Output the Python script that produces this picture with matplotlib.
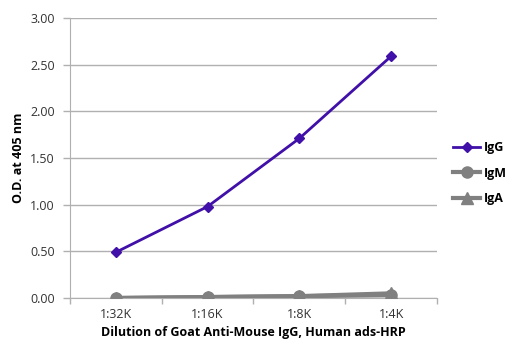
import matplotlib.pyplot as plt

# data
dilutions = ["1:32K", "1:16K", "1:8K", "1:4K"]
igg = [0.49, 0.98, 1.71, 2.59]
igm = [0.00, 0.01, 0.02, 0.03]
iga = [0.00, 0.01, 0.02, 0.05]

plt.rcParams['font.family'] = ['Open Sans', 'DejaVu Sans']

fig = plt.figure(figsize=(5.06, 3.46), dpi=100)
ax = fig.add_axes([0.1383, 0.1387, 0.7253, 0.8093])

x = range(len(dilutions))

ax.plot(x, iga, color="#808080", lw=3, marker="^", ms=8, label="IgA", zorder=3)
ax.plot(x, igm, color="#808080", lw=3, marker="o", ms=8, label="IgM", zorder=4)
ax.plot(x, igg, color="#4010A8", lw=2, marker="D", ms=5, label="IgG", zorder=5)

ax.set_xlim(-0.5, len(dilutions) - 0.5)
ax.set_ylim(0, 3)
ax.set_yticks([0, 0.5, 1, 1.5, 2, 2.5, 3])
ax.set_yticklabels([f"{v:.2f}" for v in ax.get_yticks()])
ax.set_xticks(list(x))
ax.set_xticklabels(dilutions)
ax.set_xticks([i - 0.5 for i in range(len(dilutions) + 1)], minor=True)
ax.tick_params(axis='x', which='major', length=0, pad=7)
ax.tick_params(axis='x', which='minor', length=4, color="#b0b0b0", width=1)
ax.tick_params(axis='y', length=5, color="#b0b0b0", width=1, pad=6)
ax.tick_params(labelsize=9, labelcolor="#333333")

ax.grid(axis='y', color="#b0b0b0", lw=1)
ax.set_axisbelow(True)
for s in ["top", "right"]:
    ax.spines[s].set_visible(False)
for s in ["left", "bottom"]:
    ax.spines[s].set_color("#b0b0b0")

ax.set_ylabel("O.D. at 405 nm", fontsize=9, fontweight="bold", labelpad=4)
ax.set_xlabel("Dilution of Goat Anti-Mouse IgG, Human ads-HRP", fontsize=9,
              fontweight="bold", labelpad=4)

handles, labels = ax.get_legend_handles_labels()
leg = fig.legend(handles[::-1], labels[::-1], loc="center left",
                 bbox_to_anchor=(0.885, 0.5), frameon=False, fontsize=9,
                 handlelength=2.2, handletextpad=0.3, labelspacing=1.0,
                 borderaxespad=0)
for t in leg.get_texts():
    t.set_fontweight("bold")

fig.savefig("out.png", dpi=100)
